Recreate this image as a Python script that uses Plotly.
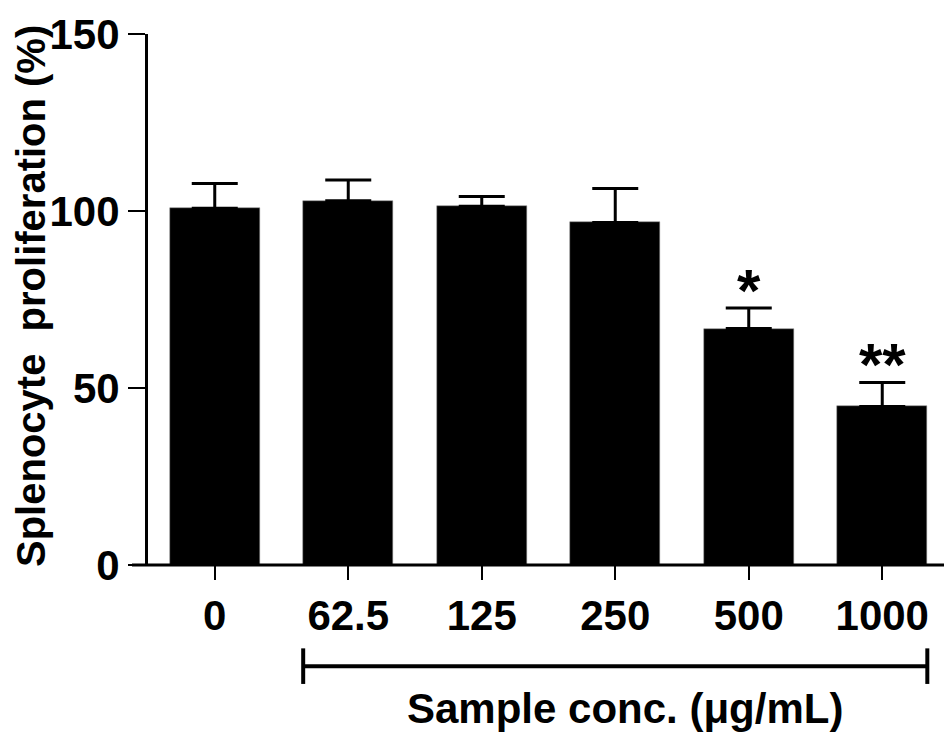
import plotly.graph_objects as go

# values
conc = ["0", "62.5", "125", "250", "500", "1000"]
prolif = [100.8, 102.9, 101.4, 96.8, 66.8, 44.8]
sem = [7.0, 5.9, 2.7, 9.6, 5.8, 6.8]
stars = ["", "", "", "", "*", "**"]
yticks = [0, 50, 100, 150]

FONT = "Liberation Sans, Arial, sans-serif"
bw = 0.675

fig = go.Figure()
fig.add_trace(go.Bar(
    x=list(range(len(conc))), y=prolif, width=bw,
    marker=dict(color="black", line=dict(color="#888", width=0.5)),
    error_y=dict(type="data", array=sem, symmetric=False, arrayminus=[0]*len(sem),
                 color="black", thickness=3, width=23),
    showlegend=False,
))

# significance marks
for i, s in enumerate(stars):
    if s:
        fig.add_annotation(x=i, y=prolif[i] + sem[i], text="<b>%s</b>" % s, showarrow=False,
                           yanchor="bottom", yshift=-18,
                           font=dict(family=FONT, size=60, color="black"))

# x axis line (extends left past the y axis like the original)
fig.add_shape(type="line", xref="paper", yref="paper", x0=-16/801, x1=1, y0=0, y1=0,
              line=dict(color="black", width=3))

# bracket under the sample concentrations
fig.add_shape(type="line", xref="x", yref="paper", x0=1 - bw/2, x1=5 + bw/2,
              y0=-0.1907, y1=-0.1907, line=dict(color="black", width=4))
for xe in (1 - bw/2, 5 + bw/2):
    fig.add_shape(type="line", xref="x", yref="paper", x0=xe, x1=xe,
                  y0=-0.157, y1=-0.224, line=dict(color="black", width=4))

fig.add_annotation(xref="paper", yref="paper", x=0.596, y=-0.271, text="<b>Sample conc. (μg/mL)</b>",
                   showarrow=False, xanchor="center", yanchor="middle",
                   font=dict(family=FONT, size=42, color="black"))
fig.add_annotation(xref="paper", yref="paper", x=-117/801, y=(565-294)/535,
                   text="<b>Splenocyte\u00a0 proliferation (%)</b>", textangle=-90,
                   showarrow=False, xanchor="center", yanchor="middle",
                   font=dict(family=FONT, size=40, color="black"))

fig.update_xaxes(range=[-0.5, 5.5], tickmode="array", tickvals=list(range(len(conc))),
                 ticktext=["<b>%s</b>" % c for c in conc],
                 ticks="outside", ticklen=14, tickwidth=2, tickcolor="black",
                 showline=False, showgrid=False, zeroline=False,
                 tickfont=dict(family=FONT, size=42, color="black"))
fig.update_yaxes(range=[0, 150.05], tickmode="array", tickvals=yticks,
                 ticktext=["<b>%d</b>" % t for t in yticks], ticklabeloverflow="allow",
                 ticks="outside", ticklen=17, tickwidth=2, tickcolor="black",
                 showline=True, linecolor="black", linewidth=3,
                 showgrid=False, zeroline=False,
                 tickfont=dict(family=FONT, size=42, color="black"))

# page body has an 8px margin, so the figure is sized to fit the window
fig.update_layout(width=944, height=725, margin=dict(l=140, r=3, t=22, b=168),
                  plot_bgcolor="white", paper_bgcolor="white", bargap=0)

fig.write_html("out.html")
